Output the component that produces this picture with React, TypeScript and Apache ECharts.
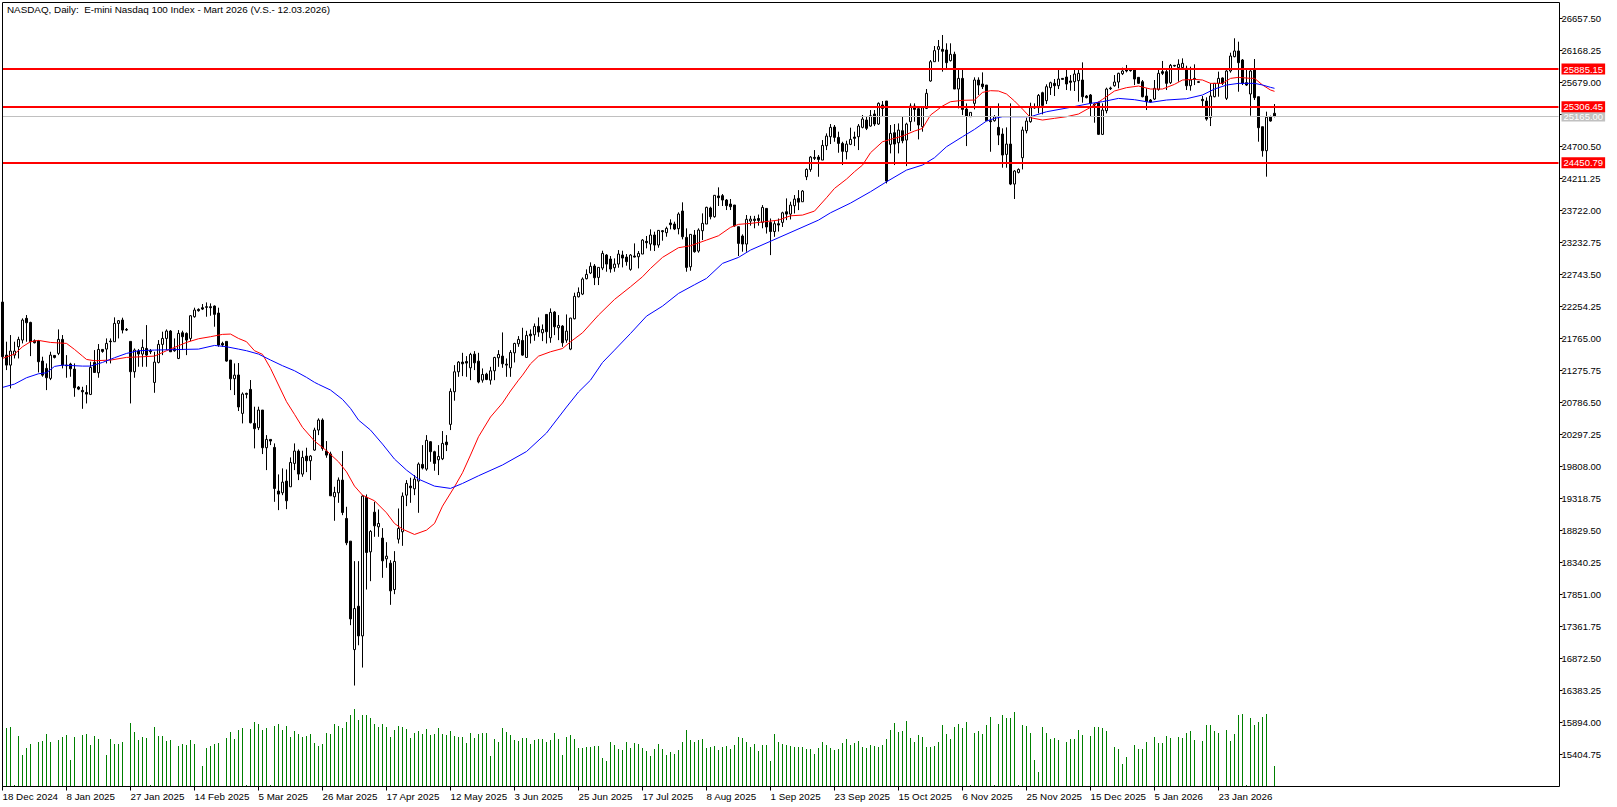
import { useEffect, useRef } from 'react';
import * as echarts from 'echarts';

const titleText = 'NASDAQ, Daily:  E-mini Nasdaq 100 Index - Mart 2026 (V.S.- 12.03.2026)';

const dateLabels = ['18 Dec 2024', '8 Jan 2025', '27 Jan 2025', '14 Feb 2025', '5 Mar 2025', '26 Mar 2025', '17 Apr 2025', '12 May 2025', '3 Jun 2025', '25 Jun 2025', '17 Jul 2025', '8 Aug 2025', '1 Sep 2025', '23 Sep 2025', '15 Oct 2025', '6 Nov 2025', '25 Nov 2025', '15 Dec 2025', '5 Jan 2026', '23 Jan 2026'];
const barsPerLabel = 16;
const slotCount = 390;

const priceTicks = [26657.5, 26168.25, 25679, 25189.75, 24700.5, 24211.25, 23722, 23232.75, 22743.5, 22254.25, 21765, 21275.75, 20786.5, 20297.25, 19808, 19318.75, 18829.5, 18340.25, 17851, 17361.75, 16872.5, 16383.25, 15894, 15404.75];
const priceLabels = priceTicks.filter((p) => p !== 25189.75);
const priceMin = 14915.5;
const priceMax = 26902.125;

const levels = [25885.15, 25306.45, 24450.79];
const lastPrice = 25165;

// open, close, low, high
const ohlc = [
  [22322,21486,21358,22322],[21511,21358,21282,21716],[21358,21573,21002,21818],[21511,21573,21460,21716],[21639,21751,21460,21792],
  [21741,22047,21690,22073],[22073,22006,21716,22124],[22011,21716,21496,22021],[21731,21700,21690,21751],[21726,21410,21246,21741],
  [21420,21205,21180,21486],[21308,21165,20976,21384],[21155,21511,21129,21562],[21506,21476,21460,21511],[21537,21751,21511,21904],
  [21751,21358,21308,21818],[21358,21348,21165,21511],[21374,21302,21180,21394],[21297,21012,20874,21384],[21022,20991,20976,21037],
  [20971,20950,20690,21027],[20940,20915,20772,21052],[20910,21323,20900,21410],[21399,21246,21241,21588],[21241,21598,21165,21680],
  [21598,21568,21547,21603],[21603,21690,21384,21766],[21726,21716,21384,21766],[21716,21996,21716,22088],[21996,22037,21766,22047],
  [22047,21894,21843,22083],[21904,21894,21879,21925],[21721,21257,20772,21721],[21257,21588,21165,21613],[21573,21527,21333,21603],
  [21527,21629,21333,21751],[21613,21511,21333,21970],[21578,21562,21527,21603],[21093,21404,20935,21562],[21399,21675,21384,21741],
  [21675,21766,21511,21869],[21766,21879,21588,21904],[21879,21562,21562,21894],[21608,21578,21562,21766],[21460,21843,21450,21894],
  [21853,21792,21588,21884],[21843,21741,21511,21858],[21766,22113,21726,22124],[22098,22200,22083,22236],[22210,22190,22175,22226],
  [22236,22215,22200,22292],[22251,22241,22098,22317],[22251,22236,22113,22302],[22261,22134,21945,22271],[22154,21665,21639,22236],
  [21690,21665,21639,21716],[21721,21420,21410,21721],[21435,21150,20976,21435],[21150,21205,20900,21384],[21207,20718,20656,21390],
  // 60
  [20620,20916,20467,20941],[20926,20911,20850,20936],[20987,20477,20467,21130],[20467,20385,20085,20722],[20401,20671,20365,20722],
  [20671,20095,19998,20671],[20095,20222,19753,20288],[20222,20197,20135,20222],[20100,19472,19268,20161],[19432,19386,19141,19687],
  [19406,19569,19370,19779],[19585,19284,19156,19763],[19498,19870,19498,19947],[19855,20044,19753,20161],[20044,19692,19600,20069],
  [19692,19947,19651,20049],[19967,19896,19722,20095],[19896,19967,19600,19982],[20059,20365,20049,20401],[20365,20518,20288,20544],
  [20518,20085,20049,20544],[20044,19982,19942,20197],[20000,19360,19360,20034],[19345,19411,18978,19498],[19406,19600,19253,19641],
  [19600,19105,19064,20044],[19014,18641,18605,19192],[18667,17478,17382,18667],[17009,17636,16459,18361],[17672,17218,17075,18361],
  [17218,19355,16734,19370],[19335,18493,17927,19381],[18503,18815,18055,18835],[19110,18901,18733,19268],[18886,18937,18733,19151],
  [18713,18366,18106,18866],[18396,18437,18259,18651],[18330,17907,17693,18376],[17927,18356,17856,18514],[18697,18860,18631,19166],
  [18810,19355,18595,19411],[19370,19549,19202,19600],[19508,19483,19253,19636],[19467,19615,19370,19677],[19585,19845,19100,19870],
  [19840,19784,19763,20135],[19768,20207,19743,20288],[20187,20034,19880,20197],[20034,19855,19743,20049],[19911,19962,19677,20135],
  [19926,20161,19906,20350],[20181,20141,20044,20288],[20452,20957,20365,21002],[20951,21256,20814,21358],[21256,21404,21179,21420],
  [21404,21378,21190,21546],[21414,21389,21179,21496],[21317,21521,21128,21546],[21526,21393,21282,21572],[21419,21100,21080,21546],
  // 120
  [21128,21215,21090,21307],[21220,21138,21128,21241],[21128,21271,21060,21332],[21271,21475,21128,21485],[21470,21521,21332,21587],
  [21496,21378,21317,21858],[21373,21358,21179,21460],[21317,21552,21179,21587],[21546,21689,21399,21700],[21684,21751,21638,21802],
  [21735,21511,21500,21929],[21475,21812,21475,21883],[21832,21807,21689,21903],[21822,21950,21730,21995],[21950,21863,21791,22087],
  [21852,21903,21725,21980],[22133,21868,21689,22133],[21776,22164,21700,22225],[22169,21944,21817,22184],[21929,21965,21740,22123],
  [21955,21700,21638,21970],[21740,21878,21700,22133],[21603,22077,21587,22082],[22067,22409,22057,22465],[22403,22470,22393,22546],
  [22444,22674,22429,22699],[22679,22745,22669,22822],[22766,22868,22750,22929],[22873,22694,22582,22903],[22699,22852,22582,22852],
  [22842,23066,22811,23107],[23041,22903,22786,23056],[22980,22827,22771,23026],[22847,22903,22786,22990],[22903,23056,22847,23117],
  [23041,22995,22852,23107],[23010,22939,22878,23056],[22822,23041,22801,23056],[23026,23010,23005,23219],[23015,23066,22837,23102],
  [23056,23270,23056,23286],[23250,23230,23143,23332],[23209,23347,23107,23434],[23347,23194,23102,23398],[23194,23418,23153,23423],
  [23413,23398,23260,23423],[23383,23449,23321,23475],[23531,23505,23434,23587],[23515,23439,23423,23551],[23444,23668,23357,23694],
  [23714,23321,23281,23847],[23311,22852,22786,23449],[22862,23357,22801,23362],[23347,23092,23077,23423],[23102,23423,23077,23449],
  [23413,23525,23270,23678],[23515,23770,23515,23780],[23760,23627,23587,23780],[23627,23954,23612,23959],[23944,23918,23791,24076],
  // 180
  [23949,23882,23791,23974],[23882,23796,23729,23898],[23821,23780,23729,23898],[23806,23485,23475,23806],[23474,23219,23026,23474],
  [23332,23209,23092,23357],[23209,23587,23092,23653],[23560,23590,23490,23640],[23590,23570,23450,23640],[23600,23570,23490,23660],
  [23540,23769,23450,23805],[23754,23470,23370,23760],[23540,23400,23040,23600],[23400,23520,23320,23560],[23520,23500,23400,23600],
  [23540,23687,23470,23703],[23703,23667,23575,23907],[23667,23805,23585,23856],[23795,23896,23677,23958],[23907,23850,23728,24034],
  [23856,24019,23856,24034],[24238,24350,24187,24366],[24350,24539,24314,24554],[24534,24519,24493,24646],[24539,24503,24238,24570],
  [24493,24717,24493,24799],[24712,24860,24646,24901],[24850,24993,24738,25044],[24998,24840,24773,25029],[24840,24748,24605,24927],
  [24748,24626,24417,24773],[24621,24738,24503,24789],[24733,24809,24722,24988],[24845,24825,24707,24927],[24850,25013,24646,25044],
  [24993,25120,24978,25182],[25105,24978,24952,25156],[25013,25171,25003,25258],[25197,25044,25013,25258],[25044,25360,25029,25375],
  [25335,25283,25156,25396],[25396,24172,24136,25396],[24733,24901,24595,25029],[24911,24738,24417,25044],[24758,24952,24595,25054],
  [24942,24789,24750,25156],[24799,25044,24401,25064],[25080,25319,24937,25360],[25319,25268,25080,25360],[25278,25029,24809,25319],
  [25003,25294,24927,25319],[25283,25513,25273,25579],[25702,25997,25691,26023],[25997,26166,25997,26237],[26186,26227,25997,26329],
  [26186,26156,25845,26405],[26176,25982,25895,26278],[26013,26110,26000,26278],[26110,25579,25579,26150],[25579,25742,25283,25895],
  // 240
  [25742,25268,25181,25870],[25273,25166,24707,25360],[25156,25222,25156,25222],[25360,25717,25268,25758],[25717,25640,25488,25758],
  [25656,25615,25579,25834],[25640,25095,25095,25640],[25095,25080,24620,25319],[25095,25156,25080,25181],[24993,24875,24722,25360],
  [24891,24570,24376,24978],[24580,24738,24376,24993],[24738,24126,24110,25360],[24126,24325,23898,24340],[24304,24350,24289,24366],
  [24529,24952,24350,25003],[24942,25090,24901,25141],[25080,25294,25064,25370],[25309,25289,25278,25360],[25294,25482,25207,25503],
  [25523,25329,25192,25538],[25401,25615,25350,25651],[25600,25676,25488,25691],[25666,25630,25472,25732],[25630,25732,25579,25870],
  [25742,25727,25727,25742],[25763,25656,25564,25870],[25702,25681,25554,25793],[25691,25809,25549,25870],[25707,25819,25386,25870],
  [25717,25462,25370,25987],[25472,25447,25437,25488],[25488,25360,25156,25503],[25350,25335,25064,25360],[25370,24886,24876,25386],
  [24886,25258,24876,25360],[25248,25579,25207,25600],[25595,25584,25564,25615],[25630,25686,25615,25793],[25686,25819,25590,25829],
  [25814,25855,25793,25906],[25870,25855,25834,25947],[25870,25860,25845,25896],[25870,25732,25640,25896],[25758,25666,25656,25758],
  [25691,25462,25452,25717],[25472,25386,25258,25590],[25411,25380,25370,25426],[25426,25590,25411,25717],[25574,25819,25554,25870],
  [25845,25819,25793,26008],[25845,25666,25564,25870],[25676,25941,25656,25962],[25941,25931,25921,25947],[25906,25957,25691,26033],
  [25906,25972,25870,26048],[25895,25630,25564,25936],[25630,25717,25554,25921],[25742,25727,25640,25957],[25691,25681,25671,25702],
  // 300
  [25421,25401,25319,25472],[25396,25120,25095,25452],[25146,25472,25013,25666],[25462,25666,25452,25670],[25666,25742,25462,25845],
  [25748,25666,25640,25758],[25437,25855,25411,25870],[25855,26084,25829,26135],[26074,26161,26064,26355],[26161,25982,25538,26303],
  [26023,25666,25640,26038],[25676,25640,25625,25880],[25503,25855,25171,25870],[25870,25447,25411,26038],[25462,24988,24774,25462],
  [25003,24636,24545,25003],[24636,25147,24239,25233],[25156,25090,25080,25172],[25208,25165,25147,25350],
];

const volumes = [
  59,59,60,2,51,32,39,43,1,45,46,53,45,1,47,50,52,27,50,1,52,53,42,51,48,1,32,48,43,43,45,1,64,55,47,50,49,2,60,51,51,46,47,1,41,43,42,47,43,1,21,39,41,43,44,1,49,55,48,57,59,2,58,65,63,57,59,2,61,63,57,61,50,56,53,50,51,53,44,41,43,54,53,63,61,59,65,72,78,67,72,72,69,63,60,63,60,50,57,61,60,58,49,54,56,
  53,58,52,53,59,53,52,56,51,50,50,44,54,49,53,54,54,31,48,45,59,55,52,47,46,49,49,43,47,48,48,45,47,54,48,32,50,52,48,39,39,40,40,41,41,29,26,45,42,38,37,45,39,44,43,39,36,31,38,43,38,32,35,33,37,45,57,47,45,47,48,39,40,41,37,40,41,38,42,50,49,45,40,43,36,42,42,26,53,45,43,42,41,40,40,40,38,38,33,39,45,42,39,37,38,
  44,48,42,44,46,40,39,42,41,40,42,48,57,64,55,56,66,49,45,52,50,40,40,41,45,62,53,48,60,63,59,65,2,54,56,53,62,70,2,63,72,69,69,75,2,62,61,54,27,15,60,54,48,49,47,1,45,48,48,57,52,0,51,60,60,59,56,1,40,38,23,30,0,42,38,38,45,1,50,44,44,51,49,1,50,49,54,56,47,1,46,62,62,56,54,1,57,46,53,72,73,2,69,62,65,
  70,73,1,21,
];

// moving averages, read at the bars listed alongside
const fastMaBars = [0,3,5,7,9,12,16,18,20,21,23,27,31,35,38,41,44,46,49,52,55,57,59,61,63,65,67,69,71,73,75,78,81,84,86,88,90,93,96,98,100,103,106,108,110,113,115,117,119,122,125,127,129,130,132,134,137,140,142,145,149,153,157,160,162,165,169,172,176,179,182,184,187,194,197,200,203,206,208,211,213,215,217,220,222,225,228,230,232,235,237,240,243,245,247,249,251,253,255,257,260,263,266,269,272,275,278,281,284,287,290,293,295,298,300,302,305,307,309,310,312,313,315,317,318];
const fastMaValues = [21461,21527,21639,21716,21736,21705,21690,21598,21496,21445,21425,21435,21476,21486,21496,21578,21654,21705,21761,21792,21828,21833,21766,21716,21578,21523,21309,21054,20799,20605,20406,20197,20049,19880,19727,19508,19370,19284,19100,18937,18850,18769,18835,18937,19202,19498,19712,19983,20263,20565,20779,20962,21128,21204,21378,21495,21562,21612,21715,21852,22123,22362,22556,22709,22836,23005,23153,23183,23270,23336,23464,23510,23525,23575,23641,23652,23713,23917,24060,24202,24315,24416,24605,24773,24809,24860,24937,24977,25181,25319,25385,25406,25411,25528,25554,25549,25503,25396,25273,25141,25105,25131,25156,25197,25299,25421,25549,25600,25625,25579,25579,25651,25717,25727,25717,25666,25666,25742,25758,25752,25743,25743,25641,25564,25544];
const slowMaBars = [0,3,6,9,11,13,15,20,22,25,28,31,34,38,45,49,53,56,59,61,64,67,70,73,76,78,79,82,85,87,89,92,95,98,101,104,108,112,115,119,125,131,136,141,144,147,150,153,157,161,165,169,173,176,180,184,187,204,207,212,217,221,226,230,233,236,240,243,246,248,250,257,261,267,272,275,279,283,287,291,296,300,303,306,309,313,315,317,318];
const slowMaValues = [21017,21068,21165,21226,21241,21338,21358,21343,21343,21399,21471,21537,21578,21588,21598,21603,21659,21639,21603,21578,21527,21436,21349,21272,21171,21095,21064,20977,20834,20696,20518,20365,20151,19921,19753,19615,19508,19473,19549,19666,19831,20037,20320,20717,20947,21128,21398,21587,21842,22107,22260,22454,22587,22684,22913,23005,23117,23575,23687,23835,24009,24161,24340,24417,24529,24697,24850,24962,25090,25130,25156,25156,25232,25299,25360,25386,25436,25416,25375,25411,25431,25488,25579,25640,25666,25666,25641,25605,25590];

const categories = Array.from({ length: slotCount }, (_, i) => (i % barsPerLabel === 0 ? dateLabels[i / barsPerLabel] ?? '' : ''));
const font = '"Liberation Sans"';

export default function App() {
  const chartRef = useRef<HTMLDivElement>(null);
  useEffect(() => {
    const chartInstance = echarts.init(chartRef.current, null, { renderer: 'svg' });
    const isDateBar = (i: number) => i % barsPerLabel === 0 && i < dateLabels.length * barsPerLabel;
    const levelLabel = (bg: string) => ({
      show: true,
      position: 'end',
      distance: 3,
      formatter: (p: any) => Number(p.value).toFixed(2),
      backgroundColor: bg,
      color: '#fff',
      padding: [0, 2, 0, 2],
      lineHeight: 11,
      fontFamily: font,
      fontSize: 9.5,
    });
    const option = {
      animation: false,
      backgroundColor: '#fff',
      title: {
        text: titleText,
        left: 7,
        top: 4,
        padding: 0,
        textStyle: { fontFamily: font, fontSize: 9.85, color: '#000', fontWeight: 'normal' },
      },
      grid: { left: 2.5, top: 2.5, width: 1556, height: 784, outerBoundsMode: 'none' },
      xAxis: {
        type: 'category',
        boundaryGap: false,
        data: categories,
        axisLine: { show: false },
        axisTick: { length: 4, interval: (i: number) => isDateBar(i), lineStyle: { color: '#000' } },
        axisLabel: { fontFamily: font, fontSize: 9.8, color: '#000', align: 'left', margin: 5, interval: (i: number) => isDateBar(i) },
        splitLine: { show: false },
      },
      yAxis: [
        {
          type: 'value',
          position: 'right',
          offset: 1,
          min: priceMin,
          max: priceMax,
          axisLine: { show: false },
          axisTick: { show: true, length: 3, customValues: priceTicks, lineStyle: { color: '#000' } },
          axisLabel: { fontFamily: font, fontSize: 9.5, color: '#000', margin: 2, customValues: priceLabels, formatter: (v: number) => v.toFixed(2) },
          splitLine: { show: false },
        },
        { type: 'value', min: 0, max: 784, show: false, splitLine: { show: false } },
      ],
      series: [
        {
          name: 'Volume',
          type: 'custom',
          yAxisIndex: 1,
          data: volumes.map((v, i) => [i, v]),
          encode: { x: 0, y: 1 },
          renderItem: (_: any, api: any) => {
            const top = api.coord([api.value(0), api.value(1)]);
            const base = api.coord([api.value(0), 0]);
            const y = Math.round(top[1]);
            return {
              type: 'rect',
              shape: { x: top[0] - 0.5, y, width: 1, height: Math.round(base[1]) - y },
              style: { fill: '#008000' },
            };
          },
        },
        {
          name: 'NASDAQ',
          type: 'candlestick',
          data: ohlc,
          barWidth: 2,
          itemStyle: { color: '#fff', color0: '#000', borderColor: '#000', borderColor0: '#000', borderColorDoji: '#000', borderWidth: 1 },
          markLine: {
            silent: true,
            symbol: 'none',
            precision: 2,
            data: [
              { yAxis: lastPrice, lineStyle: { color: '#c0c0c0', width: 1, type: 'solid' }, label: levelLabel('#c0c0c0') },
              ...levels.map((p) => ({ yAxis: p, lineStyle: { color: '#ff0000', width: 2, type: 'solid' }, label: levelLabel('#ff0000') })),
            ],
          },
        },
        {
          name: 'MA fast',
          type: 'line',
          data: fastMaBars.map((b, i) => [b, fastMaValues[i]]),
          showSymbol: false,
          lineStyle: { color: '#ff0000', width: 1 },
        },
        {
          name: 'MA slow',
          type: 'line',
          data: slowMaBars.map((b, i) => [b, slowMaValues[i]]),
          showSymbol: false,
          lineStyle: { color: '#0000ff', width: 1 },
        },
      ],
      graphic: [
        { type: 'rect', shape: { x: 2.5, y: 2.5, width: 1557, height: 784 }, style: { fill: 'none', stroke: '#000', lineWidth: 1 }, silent: true, z: 100 },
      ],
    };

    chartInstance.setOption(option as any);
    return () => {
      chartInstance.dispose();
    };
  }, []);

  return <div ref={chartRef} style={{ position: 'absolute', left: 0, top: 0, width: '1617px', height: '807px' }} />;
}
